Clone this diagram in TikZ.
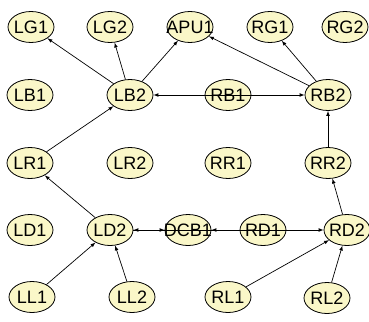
\documentclass[tikz,border=0pt]{standalone}
\usepackage{fontspec}
\setmainfont{Liberation Sans}
\usetikzlibrary{shapes.geometric}
\definecolor{nodefill}{RGB}{250,247,200}
\begin{document}
\begin{tikzpicture}
[x=1pt, y=-1pt,
  nodedecorate/.style={shape=ellipse,draw,thick,fill=nodefill,inner sep=0pt,
    minimum width=46pt,minimum height=31pt,font=\fontsize{18}{18}\selectfont},%
  linedecorate/.style={-latex,line width=0.7pt}]
\useasboundingbox (0,0) rectangle (369,321);
%% nodes or vertices
\foreach \nodename/\x/\y in {LG1/31/27, LG2/110/27, APU1/190/27, RG1/270/27,
  RG2/345/27, LB1/30/95, LB2/130/95, RB1/228/95, RB2/328/95,
  LR1/30/163, LR2/130/163, RR1/228/163, RR2/328/163,
  LD1/30/230, LD2/110/230, DCB1/188/230, RD1/263/230, RD2/347/230,
  LL1/32/297, LL2/132/297, RL1/228/297, RL2/327/298}
{
  \node (\nodename) at (\x,\y) [nodedecorate] {\makebox[0pt]{\nodename}};
}
%% edges or lines
\path
\foreach \startnode/\endnode in {LB2/LG1, LB2/LG2, LB2/APU1, RB2/APU1,
  RB2/RG1, RB1.center/LB2, RB1.center/RB2, RR2/RB2, LR1/LB2, LD2/LR1,
  LD2/DCB1, DCB1.center/LD2, RD1.center/DCB1, RD1.center/RD2, RD2/RR2,
  LL1/LD2, LL2/LD2, RL1/RD2, RL2/RD2} {
  (\startnode) edge[linedecorate] (\endnode)
};
\draw[line width=0.7pt] (RD1.center) -- (DCB1.center);
\end{tikzpicture}
\end{document}
